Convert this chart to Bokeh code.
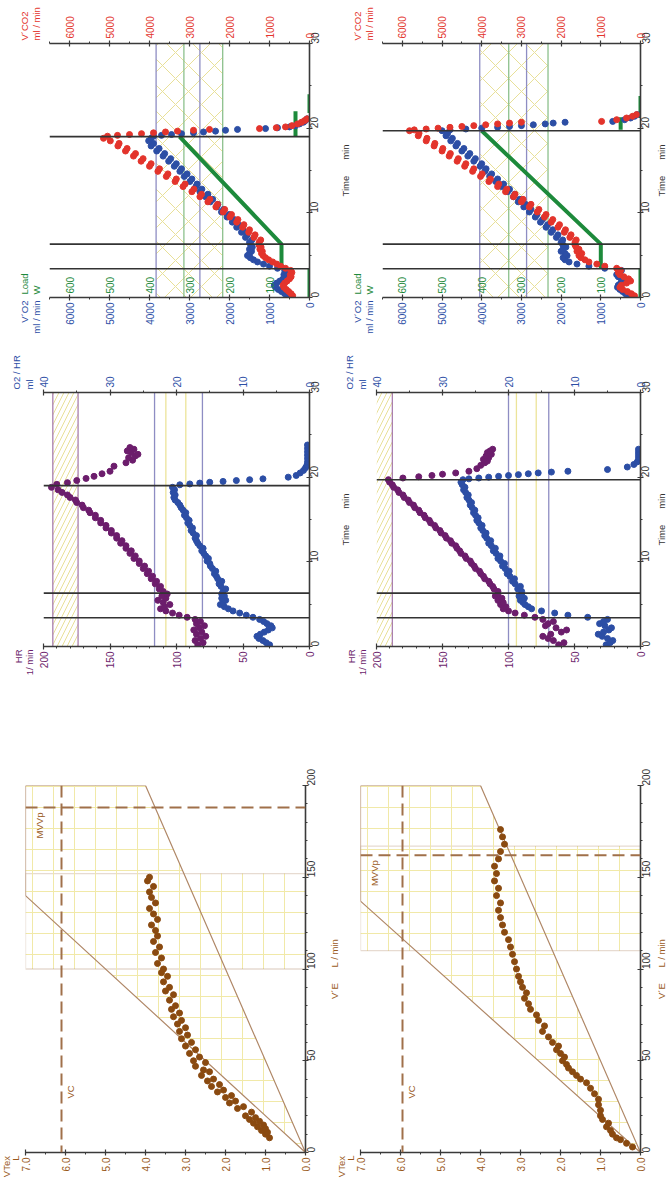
import math
from bokeh.plotting import figure
from bokeh.models import (Range1d, LinearAxis, FixedTicker, Span, BoxAnnotation,
                          Label, PrintfTickFormatter)
from bokeh.layouts import row, column
from bokeh.embed import file_html
from bokeh.resources import INLINE
from bokeh.core.properties import value

NAN = float("nan")
FONT = "Liberation Sans"
ROT = math.pi / 2
NB = "\u00a0"

# ---------------- tick labels ----------------
time_ticks = [0, 10, 20, 30]
time_minor = [5, 15, 25]
vo2_ticks = [0, 1000, 2000, 3000, 4000, 5000, 6000]
vo2_minor = [500, 1500, 2500, 3500, 4500, 5500, 6500]
load_ticks = [100, 200, 300, 400, 500, 600]
hr_ticks = [0, 50, 100, 150, 200]
hr_minor = [10, 20, 30, 40, 60, 70, 80, 90, 110, 120, 130, 140, 160, 170, 180, 190]
o2hr_ticks = [0, 10, 20, 30, 40]
o2hr_minor = [5, 15, 25, 35]
vtex_ticks = [0, 1, 2, 3, 4, 5, 6, 7]
vtex_minor = [0.5, 1.5, 2.5, 3.5, 4.5, 5.5, 6.5]
ve_ticks = [0, 50, 100, 150, 200]
ve_minor = [10, 20, 30, 40, 60, 70, 80, 90, 110, 120, 130, 140, 160, 170, 180, 190]

# ---------------- test 1 (left column) ----------------
t1_ex = [0.2, 0.45, 0.7, 0.95, 1.2, 1.45, 1.7, 1.95, 2.2, 2.45, 2.7, 2.95, 3.2,
         3.45, 3.7, 3.95, 4.2, 4.45, 4.7, 4.95, 5.2, 5.45, 5.7, 5.95, 6.2,
         6.5, 6.8, 7.1, 7.4, 7.7, 8.0, 8.3, 8.6, 8.9, 9.2,
         9.5, 9.8, 10.1, 10.4, 10.7, 11.0, 11.3, 11.6, 11.9, 12.2,
         12.5, 12.8, 13.1, 13.4, 13.7, 14.0, 14.3, 14.6, 14.9, 15.2,
         15.5, 15.8, 16.1, 16.4, 16.7, 17.0, 17.3, 17.6, 17.9, 18.2,
         18.5, 18.8]
vo2_1_ex = [560, 620, 700, 780, 850, 880, 820, 740, 660, 600, 640, 580, 620,
            800, 1000, 1150, 1300, 1400, 1480, 1550, 1500, 1450, 1500, 1430, 1470,
            1500, 1440, 1600, 1560, 1700, 1660, 1820, 1780, 1930, 1880,
            2060, 2010, 2200, 2150, 2320, 2290, 2480, 2420, 2600, 2540,
            2740, 2690, 2840, 2810, 2990, 2940, 3130, 3060, 3240, 3200,
            3380, 3330, 3520, 3470, 3660, 3620, 3820, 3760, 3960, 3900,
            4020, 3960]
vco2_1_ex = [420, 460, 520, 580, 640, 660, 620, 560, 500, 460, 480, 440, 470,
             600, 720, 820, 920, 1020, 1100, 1160, 1200, 1180, 1240, 1210, 1260,
             1260, 1220, 1390, 1360, 1520, 1500, 1670, 1640, 1820, 1790,
             1990, 1950, 2160, 2120, 2340, 2300, 2540, 2490, 2740, 2700,
             2940, 2890, 3160, 3110, 3360, 3330, 3580, 3540, 3790, 3750,
             4000, 3960, 4210, 4160, 4400, 4350, 4600, 4560, 4790, 4760,
             4980, 5150]
hr_1_ex = [84, 80, 86, 82, 78, 85, 81, 87, 83, 79, 85, 82, 86,
           92, 98, 103, 108, 112, 109, 105, 110, 114, 108, 111, 107,
           110, 113, 112, 116, 115, 119, 118, 122, 121, 125,
           124, 128, 128, 132, 131, 135, 134, 138, 138, 142,
           141, 145, 145, 149, 149, 153, 153, 157, 157, 161,
           161, 165, 166, 170, 171, 175, 176, 180, 182, 186,
           189, 194]
o2hr_1_ex = [6.0, 6.5, 7.0, 7.6, 7.9, 7.4, 6.8, 6.2, 5.6, 5.8, 6.4, 6.9, 7.5,
             8.5, 9.5, 10.5, 11.5, 12.2, 12.8, 13.4, 13.0, 12.6, 13.2, 12.8, 13.2,
             13.0, 12.6, 13.3, 13.6, 13.2, 13.8, 14.0, 14.3, 14.1, 14.6,
             14.9, 15.0, 15.4, 15.2, 15.6, 15.9, 16.2, 16.0, 16.5, 16.8,
             17.0, 17.2, 17.0, 17.5, 17.8, 17.6, 18.0, 18.3, 18.1, 18.5,
             18.8, 18.6, 19.0, 19.3, 19.5, 19.8, 20.2, 20.4, 20.2, 20.5,
             20.3, 20.6]
t1_gas_rec = [19.05, 19.15, 19.25, 19.35, 19.45, 19.55, 19.65, 19.75, 19.85, 19.95,
              20.05, 20.15, 20.3, 20.5, 20.7, 20.9, 21.1]
vo2_1_rec = [3900, 3700, 3450, 3200, 2900, 2650, 2350, 2100, 1800, 1100,
             800, 500, 350, 250, 150, 100, 60]
vco2_1_rec = [5050, 4800, 4500, 4200, 3900, 3600, 3300, 2900, 2500, 1250,
              830, 600, 440, 300, 200, 120, 60]
t1_hr_rec = [19.15, 19.35, 19.6, 19.85, 20.1, 20.4, 20.7, 21.3, 21.7, 22.0,
             22.3, 22.5, 22.7, 22.9, 23.1, 23.3, 23.5]
hr_1_rec = [190, 182, 175, 168, 162, 156, 150, 147, 138, 133,
            136, 131, 129, 134, 137, 132, 135]
t1_o2_rec = [19.1, 19.2, 19.3, 19.4, 19.5, 19.6, 19.7, 19.8, 20.0, 20.2,
             20.5, 20.8, 21.1, 21.4, 21.8, 22.2, 22.6, 23.0, 23.4, 23.8]
o2hr_1_rec = [19.5, 18.0, 16.5, 15.0, 13.0, 11.0, 9.0, 7.0, 3.2, 2.0,
              1.4, 0.9, 0.6, 0.4, 0.3, 0.3, 0.3, 0.3, 0.3, 0.3]
load1_t = [0, 3.4, NAN, 3.4, 6.3, 19.0, NAN, 19.0, 22.0, NAN, 21.8, 24.0]
load1_w = [0, 0, NAN, 70, 70, 325, NAN, 35, 35, NAN, 0, 0]
events1 = [3.4, 6.3, 19.0]
gas1_slate = [3835, 2740]
gas1_green = [3140, 2170]
gas1_hatch = [2170, 3835]
hr1_lines = [193, 174]
hr1_hatch = [174, 193]
o2_1_slate = [23.3, 16.1]
o2_1_yellow = [21.6, 18.6]
ve1 = [8, 10, 11, 12, 13, 14, 15, 16, 17, 18, 19, 20, 22, 24, 25, 27, 28, 30, 31, 33,
       34, 36, 37, 39, 40, 42, 44, 45, 47, 49, 50, 52, 54, 56, 58, 60, 62, 64, 66, 68,
       70, 72, 74, 76, 78, 80, 83, 86, 88, 90, 93, 96, 98, 100, 103, 106, 109, 112, 115, 118,
       121, 124, 127, 130, 133, 136, 139, 142, 145, 148, 150]
vt1 = [0.9, 1.0, 0.95, 1.1, 1.0, 1.2, 1.05, 1.3, 1.15, 1.4, 1.25, 1.5, 1.35, 1.7, 1.55, 1.9, 1.75, 2.0, 1.85, 2.2,
       2.05, 2.35, 2.15, 2.45, 2.3, 2.6, 2.4, 2.55, 2.75, 2.5, 2.8, 2.65, 2.9, 2.75, 3.0, 2.85, 3.1, 2.95, 3.15, 3.0,
       3.2, 3.1, 3.3, 3.15, 3.35, 3.25, 3.4, 3.3, 3.5, 3.4, 3.55, 3.45, 3.6, 3.55, 3.7, 3.6, 3.75, 3.65, 3.8, 3.7,
       3.75, 3.85, 3.7, 3.8, 3.9, 3.75, 3.85, 3.9, 3.8, 3.95, 3.9]
poly1_vt = [0, 7, 7, 4, 0]
poly1_ve = [0, 140, 200, 200, 0]
box1_ve = [100, 152]
vc1 = 6.1
mvvp1 = 188

# ---------------- test 2 (right column) ----------------
t2_ex = [0.2, 0.45, 0.7, 0.95, 1.2, 1.45, 1.7, 1.95, 2.2, 2.45, 2.7, 2.95, 3.2,
         3.45, 3.7, 3.95, 4.2, 4.45, 4.7, 4.95, 5.2, 5.45, 5.7, 5.95, 6.2,
         6.5, 6.8, 7.1, 7.4, 7.7, 8.0, 8.3, 8.6, 8.9, 9.2,
         9.5, 9.8, 10.1, 10.4, 10.7, 11.0, 11.3, 11.6, 11.9, 12.2,
         12.5, 12.8, 13.1, 13.4, 13.7, 14.0, 14.3, 14.6, 14.9, 15.2,
         15.5, 15.8, 16.1, 16.4, 16.7, 17.0, 17.3, 17.6, 17.9, 18.2,
         18.5, 18.8, 19.1, 19.4, 19.7]
vo2_2_ex = [300, 380, 450, 520, 580, 560, 500, 450, 480, 560, 600, 520, 480,
            900, 1300, 1600, 1800, 1900, 1950, 1850, 1900, 2000, 1950, 1880, 1950,
            2000, 1960, 2120, 2080, 2250, 2210, 2380, 2340, 2520, 2470,
            2650, 2610, 2800, 2760, 2940, 2900, 3080, 3040, 3200, 3170,
            3350, 3300, 3500, 3450, 3650, 3600, 3800, 3750, 3920, 3890,
            4040, 4000, 4200, 4160, 4350, 4300, 4500, 4450, 4650, 4610,
            4780, 4740, 4900, 4860, 5000]
vco2_2_ex = [150, 230, 330, 450, 520, 480, 350, 250, 300, 420, 520, 560, 500,
             600, 900, 1100, 1300, 1400, 1500, 1550, 1480, 1600, 1550, 1620, 1650,
             1650, 1620, 1780, 1750, 1920, 1890, 2080, 2040, 2250, 2210,
             2420, 2380, 2600, 2560, 2800, 2760, 3000, 2960, 3200, 3160,
             3400, 3370, 3600, 3570, 3820, 3780, 4030, 3990, 4230, 4200,
             4430, 4400, 4620, 4590, 4820, 4790, 5000, 4980, 5200, 5180,
             5400, 5380, 5600, 5580, 5820]
hr_2_ex = [62, 58, 66, 70, 74, 68, 60, 56, 64, 72, 70, 66, 74,
           80, 88, 95, 100, 104, 102, 106, 104, 108, 105, 110, 108,
           108, 111, 112, 114, 115, 118, 119, 121, 122, 125,
           126, 128, 129, 132, 133, 136, 137, 139, 140, 143,
           144, 147, 148, 151, 152, 155, 156, 159, 160, 163,
           164, 167, 168, 171, 172, 175, 176, 179, 180, 183,
           184, 187, 188, 190, 191]
o2hr_2_ex = [5.2, 4.6, 4.2, 5.0, 5.8, 6.4, 5.6, 4.8, 4.4, 5.4, 6.2, 5.6, 5.0,
             8.0, 11.0, 13.0, 15.0, 16.5, 17.0, 17.5, 17.8, 18.2, 17.6, 18.4, 18.0,
             18.0, 18.6, 18.2, 19.0, 19.4, 19.1, 19.8, 20.2, 19.9, 20.5,
             20.9, 20.6, 21.2, 21.6, 21.3, 21.9, 22.3, 22.0, 22.6, 23.0,
             22.7, 23.3, 23.6, 23.4, 23.9, 24.2, 24.0, 24.5, 24.8, 24.6,
             25.0, 25.3, 25.1, 25.5, 25.8, 25.6, 26.0, 26.3, 26.1, 26.5,
             26.8, 26.6, 27.0, 27.2, 26.9]
t2_gas_rec = [19.8, 19.9, 20.0, 20.1, 20.2, 20.3, 20.4, 20.5, 20.6, 20.7,
              20.8, 21.0, 21.2, 21.4, 21.6]
vo2_2_rec = [4800, 4400, 4000, 3600, 3300, 3000, 2700, 2400, 2200, 1900,
             700, 400, 250, 150, 80]
vco2_2_rec = [5700, 5400, 5100, 4800, 4500, 4200, 3900, 3600, 3300, 3000,
              980, 600, 350, 200, 100]
t2_hr_rec = [19.9, 20.05, 20.2, 20.35, 20.5, 20.7, 21.0, 21.4, 21.7, 21.9,
             22.1, 22.3, 22.5, 22.7, 22.9, 23.1, 23.3]
hr_2_rec = [180, 168, 158, 150, 140, 130, 124, 121, 118, 116,
            119, 115, 117, 113, 116, 114, 112]
t2_o2_rec = [19.8, 19.9, 20.0, 20.1, 20.2, 20.3, 20.4, 20.5, 20.6, 20.7,
             20.9, 21.2, 21.5, 21.8, 22.1, 22.4, 22.7, 23.0, 23.3]
o2hr_2_rec = [26, 24.5, 23, 21.5, 20, 18.5, 17, 15.5, 13.5, 11.0,
              5.0, 2.0, 1.0, 0.5, 0.3, 0.3, 0.3, 0.3, 0.3]
load2_t = [0, 3.4, NAN, 3.4, 6.3, 19.7, NAN, 19.8, 21.3, NAN, 21.2, 23.8]
load2_w = [0, 0, NAN, 100, 100, 400, NAN, 50, 50, NAN, 0, 0]
events2 = [3.4, 6.3, 19.7]
gas2_slate = [4050, 2870]
gas2_green = [3320, 2330]
gas2_hatch = [2330, 4050]
hr2_lines = [188]
hr2_hatch = [188, 200]
o2_2_slate = [20.0, 13.9]
o2_2_yellow = [18.8, 15.8]
ve2 = [3, 5, 7, 8, 10, 12, 14, 16, 18, 20, 23, 26, 29, 32, 35, 38, 40, 42, 44, 46,
       48, 50, 52, 54, 56, 58, 60, 63, 66, 69, 72, 75, 78, 81, 84, 87, 90, 93, 96, 100,
       104, 108, 112, 116, 120, 124, 128, 132, 136, 140, 144, 148, 152, 156, 160, 164, 168, 172, 176]
vt2 = [0.2, 0.35, 0.5, 0.6, 0.7, 0.75, 0.85, 0.8, 0.95, 1.0, 1.0, 1.05, 1.05, 1.15, 1.25, 1.35, 1.5, 1.6, 1.7, 1.8,
       1.85, 1.95, 1.9, 2.0, 2.1, 2.05, 2.2, 2.3, 2.45, 2.4, 2.55, 2.6, 2.75, 2.8, 2.9, 2.85, 2.95, 3.0, 3.05, 3.1,
       3.15, 3.2, 3.25, 3.3, 3.4, 3.45, 3.5, 3.55, 3.5, 3.6, 3.55, 3.65, 3.6, 3.65, 3.55, 3.5, 3.4, 3.45, 3.5]
poly2_vt = [0, 7, 7, 4, 0]
poly2_ve = [0, 137, 200, 200, 0]
box2_ve = [110, 167]
vc2 = 5.95
mvvp2 = 162

# ---------------- styling ----------------
BLUE = "#2c4ea5"
RED = "#e3342c"
GREEN = "#1d8a3b"
PURPLE = "#6c1d6c"
BROWN = "#8a4a10"
BROWN_TXT = "#9a5a1c"
LINE_BR = "#b08868"
DASH_BR = "#a0704a"
SLATE = "#8e8dc3"
GREEN_T = "#8cc08c"
PURP_T = "#a97fae"
YEL = "#ece49a"
HATCH_Y = "#e8e098"
GRID_Y = "#f1e9a8"
AXC = "#3a3a3a"
EVT = "#333333"
DARK = "#333333"
TSIZE = 9.5
MS = 6

# approximate advance widths (em) of Liberation Sans, used to centre rotated titles
CW = {"V": .667, "´": .333, "O": .778, "2": .556, "C": .722, "m": .833, "l": .222,
      " ": .278, "/": .278, "i": .222, "n": .556, "L": .556, "o": .556, "a": .556,
      "d": .556, "W": .944, "H": .722, "R": .722, "1": .556, "T": .611, "e": .556,
      "x": .5, "E": .667, NB: .278}


def tw(s, px=TSIZE):
    return sum(CW.get(c, .55) for c in s) * px


def make_axis(ticks, minor, color, fmt=None, **kw):
    ax = LinearAxis(ticker=FixedTicker(ticks=ticks, minor_ticks=minor), **kw)
    ax.axis_line_color = AXC
    ax.axis_line_width = 1.6
    ax.major_tick_line_color = AXC
    ax.major_tick_line_width = 1.2
    ax.major_tick_in = 3
    ax.major_tick_out = 3
    ax.minor_tick_line_color = AXC
    ax.minor_tick_in = 0
    ax.minor_tick_out = 2
    ax.major_label_text_color = color
    ax.major_label_text_font = FONT
    ax.major_label_text_font_size = "10px"
    ax.major_label_orientation = ROT
    ax.major_label_standoff = 2
    if fmt:
        ax.formatter = PrintfTickFormatter(format=fmt)
    return ax


def lab(p, text, x, y, color, xo=0, yo=0, align="center", size="9.5px"):
    p.add_layout(Label(x=x, y=y, text=text, x_offset=xo, y_offset=yo, angle=ROT,
                       text_align=align, text_baseline="middle", text_color=color,
                       text_font=FONT, text_font_size=size))


def fig(w, h, xr, yr, bl, br, bt, bb):
    p = figure(width=w, height=h, x_range=xr, y_range=yr, output_backend="svg",
               toolbar_location=None, x_axis_location=None, y_axis_location=None,
               min_border_left=bl, min_border_right=br, min_border_top=bt,
               min_border_bottom=bb)
    try:
        p.frame_align = False
    except AttributeError:
        pass
    p.grid.visible = False
    p.outline_line_color = None
    p.background_fill_color = "white"
    return p


def strip(w, h, texts):
    """Frame-only canvas carrying the rotated titles that lie outside the plot frames.
    Each text: (text, x px, anchor y px from the top, colour, mode) where mode 'up'
    means the text starts at the anchor and runs upward, 'down' that it ends at the
    anchor and hangs below it, 'mid' that it is centred on the anchor."""
    s = fig(w, h, Range1d(0, w), Range1d(0, h), 0, 0, 0, 0)
    for text, x, y, color, mode in texts:
        half = tw(text) / 2
        yc = y - half if mode == "up" else (y + half if mode == "down" else y)
        lab(s, text, x, h - yc, color)
    return s


# ---- geometry (px) ----
R1H, R1T, R1F = 345, 43, 254
R2H, R2T, R2F = 367, 47, 254
R3H, R3T, R3F = 475, 73, 367


def gas_panel(w, bl, br, t, vo2, vco2, lt, lw, events, slate, green, hatch):
    p = fig(w, R1H, Range1d(6500, 0), Range1d(0, 30), bl, br, R1T, R1H - R1T - R1F)
    p.extra_x_ranges = {"load": Range1d(650, 0)}
    p.add_layout(BoxAnnotation(left=max(hatch), right=min(hatch), fill_alpha=0,
                               line_alpha=0, hatch_pattern="x", hatch_color=HATCH_Y,
                               hatch_alpha=1.0, hatch_scale=26, hatch_weight=1,
                               level="underlay"))
    for v in slate:
        p.add_layout(Span(location=v, dimension="height", line_color=SLATE,
                          line_width=1.3, level="underlay"))
    for v in green:
        p.add_layout(Span(location=v, dimension="height", line_color=GREEN_T,
                          line_width=1.3, level="underlay"))
    p.line(lw, lt, x_range_name="load", line_color=GREEN, line_width=4)
    p.scatter(vo2, t, size=MS, color=BLUE)
    p.scatter(vco2, t, size=MS, color=RED)
    for e in events:
        p.add_layout(Span(location=e, dimension="width", line_color=EVT, line_width=1.6))
    p.add_layout(make_axis(vo2_ticks, vo2_minor, BLUE), "below")
    p.add_layout(make_axis(vo2_ticks, vo2_minor, RED), "above")
    p.add_layout(make_axis(time_ticks, time_minor, DARK), "right")
    p.text(x=load_ticks, y=[0] * len(load_ticks), text=[str(v) for v in load_ticks],
           x_range_name="load", angle=ROT, text_align="left", text_baseline="middle",
           y_offset=-4, text_color=GREEN, text_font=value(FONT), text_font_size="10px")
    return p


def hr_panel(w, bl, br, t_hr, hr, t_o2, o2, events, hr_lines, hr_hatch, o2_slate, o2_yel):
    p = fig(w, R2H, Range1d(200, 0), Range1d(0, 30), bl, br, R2T, R2H - R2T - R2F)
    p.extra_x_ranges = {"o2hr": Range1d(40, 0)}
    p.add_layout(BoxAnnotation(left=max(hr_hatch), right=min(hr_hatch), fill_alpha=0,
                               line_alpha=0, hatch_pattern="/", hatch_color=HATCH_Y,
                               hatch_alpha=1.0, hatch_scale=10, hatch_weight=1,
                               level="underlay"))
    for v in hr_lines:
        p.add_layout(Span(location=v, dimension="height", line_color=PURP_T,
                          line_width=1.3, level="underlay"))
    for v in o2_slate:
        p.add_layout(Span(location=v, dimension="height", line_color=SLATE,
                          line_width=1.3, x_range_name="o2hr", level="underlay"))
    for v in o2_yel:
        p.add_layout(Span(location=v, dimension="height", line_color=YEL,
                          line_width=1.3, x_range_name="o2hr", level="underlay"))
    p.scatter(hr, t_hr, size=MS, color=PURPLE)
    p.scatter(o2, t_o2, size=MS, color=BLUE, x_range_name="o2hr")
    for e in events:
        p.add_layout(Span(location=e, dimension="width", line_color=EVT, line_width=1.6))
    p.add_layout(make_axis(hr_ticks, hr_minor, PURPLE), "below")
    p.add_layout(make_axis(o2hr_ticks, o2hr_minor, BLUE, x_range_name="o2hr"), "above")
    p.add_layout(make_axis(time_ticks, time_minor, DARK), "right")
    return p


def vt_panel(w, bl, br, ve, vt, pvt, pve, box, vc, mvvp):
    p = fig(w, R3H, Range1d(7.0, 0), Range1d(0, 200), bl, br, R3T, R3H - R3T - R3F)
    p.add_layout(BoxAnnotation(bottom=min(box), top=max(box), fill_alpha=0,
                               hatch_pattern="+", hatch_color=GRID_Y, hatch_alpha=1.0,
                               hatch_scale=21, hatch_weight=1, line_color=LINE_BR,
                               line_width=1.3, level="underlay"))
    p.patch(pvt, pve, fill_alpha=0, hatch_pattern="+", hatch_color=GRID_Y,
            hatch_alpha=1.0, hatch_scale=21, hatch_weight=1, line_color=LINE_BR,
            line_width=1.2)
    p.add_layout(Span(location=vc, dimension="height", line_color=DASH_BR,
                      line_width=2, line_dash="12 6"))
    p.add_layout(Span(location=mvvp, dimension="width", line_color=DASH_BR,
                      line_width=2, line_dash="12 6"))
    p.scatter(vt, ve, size=MS, color=BROWN)
    p.add_layout(make_axis(vtex_ticks, vtex_minor, BROWN_TXT, fmt="%.1f"), "below")
    p.add_layout(make_axis(ve_ticks, ve_minor, DARK), "right")
    lab(p, "VC", vc, 33, BROWN_TXT, xo=9, align="center")
    lab(p, "MVVp", 7.0, mvvp, BROWN_TXT, xo=14, yo=-5, align="right")
    return p


for a, b in [(t1_ex, vo2_1_ex), (t1_ex, vco2_1_ex), (t1_ex, hr_1_ex), (t1_ex, o2hr_1_ex),
             (t2_ex, vo2_2_ex), (t2_ex, vco2_2_ex), (t2_ex, hr_2_ex), (t2_ex, o2hr_2_ex),
             (t1_gas_rec, vo2_1_rec), (t1_gas_rec, vco2_1_rec), (t1_hr_rec, hr_1_rec),
             (t1_o2_rec, o2hr_1_rec), (t2_gas_rec, vo2_2_rec), (t2_gas_rec, vco2_2_rec),
             (t2_hr_rec, hr_2_rec), (t2_o2_rec, o2hr_2_rec), (ve1, vt1), (ve2, vt2)]:
    assert len(a) == len(b), (len(a), len(b))

TIME_T = "Time" + NB * 6 + "min"
VE_T = "V´E" + NB * 6 + "L / min"

# ---- row 1 : V'O2 / V'CO2 / load ----
yb1 = R1T + R1F
gas_titles = lambda c1, c2: [
    ("V´CO2", c1, R1T - 3, RED, "up"), ("ml / min", c2, R1T - 3, RED, "up"),
    ("Load", c1, yb1 - 3, GREEN, "up"), ("W", c2, yb1 - 3, GREEN, "up"),
    ("V´O2", c1, yb1 + 3, BLUE, "down"), ("ml / min", c2, yb1 + 3, BLUE, "down")]
tmid1 = R1T + R1F / 2
g1 = gas_panel(288, 4, 24, t1_ex + t1_gas_rec, vo2_1_ex + vo2_1_rec, vco2_1_ex + vco2_1_rec,
               load1_t, load1_w, events1, gas1_slate, gas1_green, gas1_hatch)
g2 = gas_panel(278, 4, 16, t2_ex + t2_gas_rec, vo2_2_ex + vo2_2_rec, vco2_2_ex + vco2_2_rec,
               load2_t, load2_w, events2, gas2_slate, gas2_green, gas2_hatch)
s11 = strip(45, R1H, gas_titles(24, 36))
s12 = strip(45, R1H, [(TIME_T, 12, tmid1, DARK, "mid")] + gas_titles(24, 36))
s13 = strip(10, R1H, [(TIME_T, 5, tmid1, DARK, "mid")])

# ---- row 2 : HR and O2 pulse ----
yb2 = R2T + R2F
hr_titles = lambda c1, c2: [
    ("O2 / HR", c1, R2T - 3, BLUE, "up"), ("ml", c2, R2T - 3, BLUE, "up"),
    ("HR", c1 + 2, yb2 + 3, PURPLE, "down"), ("1/ min", c2, yb2 + 3, PURPLE, "down")]
tmid2 = R2T + R2F / 2
h1 = hr_panel(294, 4, 24, t1_ex + t1_hr_rec, hr_1_ex + hr_1_rec, t1_ex + t1_o2_rec,
              o2hr_1_ex + o2hr_1_rec, events1, hr1_lines, hr1_hatch, o2_1_slate, o2_1_yellow)
h2 = hr_panel(284, 4, 16, t2_ex + t2_hr_rec, hr_2_ex + hr_2_rec, t2_ex + t2_o2_rec,
              o2hr_2_ex + o2hr_2_rec, events2, hr2_lines, hr2_hatch, o2_2_slate, o2_2_yellow)
s21 = strip(39, R2H, hr_titles(16, 29))
s22 = strip(39, R2H, [(TIME_T, 12, tmid2, DARK, "mid")] + hr_titles(16, 29))
s23 = strip(10, R2H, [(TIME_T, 5, tmid2, DARK, "mid")])

# ---- row 3 : VTex vs V'E ----
yb3 = R3T + R3F
vmid3 = R3T + R3F / 2
v1 = vt_panel(302, 4, 18, ve1, vt1, poly1_vt, poly1_ve, box1_ve, vc1, mvvp1)
v2 = vt_panel(300, 4, 16, ve2, vt2, poly2_vt, poly2_ve, box2_ve, vc2, mvvp2)
s31 = strip(21, R3H, [("VTex", 6, yb3 + 3, BROWN_TXT, "down"),
                      ("L", 15, yb3 + 3, BROWN_TXT, "down")])
s32 = strip(33, R3H, [(VE_T, 11, vmid3, BROWN_TXT, "mid"),
                      ("VTex", 18, yb3 + 3, BROWN_TXT, "down"),
                      ("L", 27, yb3 + 3, BROWN_TXT, "down")])
s33 = strip(10, R3H, [(VE_T, 5, vmid3, BROWN_TXT, "mid")])

layout = column(row(s11, g1, s12, g2, s13),
                row(s21, h1, s22, h2, s23),
                row(s31, v1, s32, v2, s33))
open("out.html", "w").write(file_html(layout, INLINE, title="CPET"))
